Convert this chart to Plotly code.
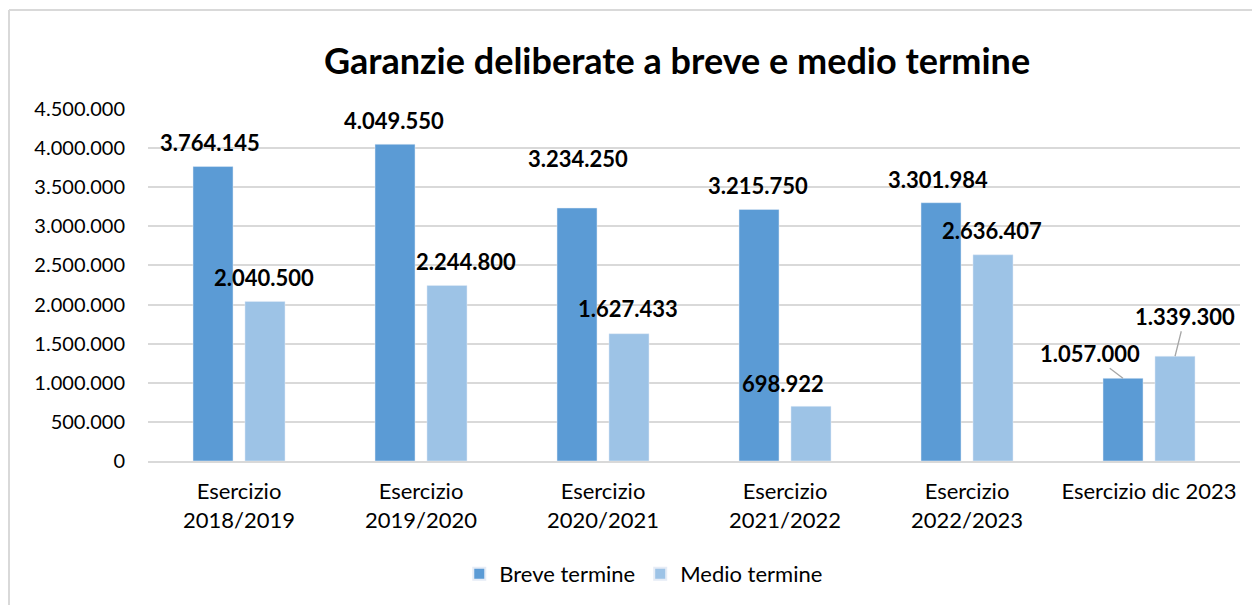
import plotly.graph_objects as go

categories = ["Esercizio<br>2018/2019", "Esercizio<br>2019/2020", "Esercizio<br>2020/2021",
              "Esercizio<br>2021/2022", "Esercizio<br>2022/2023", "Esercizio dic 2023"]
breve = [3764145, 4049550, 3234250, 3215750, 3301984, 1057000]
medio = [2040500, 2244800, 1627433, 698922, 2636407, 1339300]
tick_vals = [0, 500000, 1000000, 1500000, 2000000, 2500000, 3000000, 3500000, 4000000, 4500000]

# label pixel offsets (x, y) relative to bar top centre
breve_off = [(-3, 24), (-1, 24), (1, 50), (-1, 24), (-3, 23), (None, None)]
medio_off = [(-1, 24), (19, 24), (-1, 25), (-28, 23), (-1, 24), (None, None)]

FONT = "Lato"
C_BREVE = "#5B9BD5"
C_MEDIO = "#9DC3E6"
LBL = 22


def fmt(v):
    return f"{v:,}".replace(",", ".")


fig = go.Figure()
fig.add_trace(go.Bar(x=categories, y=breve, name="Breve termine", marker_color=C_BREVE))
fig.add_trace(go.Bar(x=categories, y=medio, name="Medio termine", marker_color=C_MEDIO))

ann = []
for i, cat in enumerate(categories):
    for vals, offs, sh in ((breve, breve_off, -0.5), (medio, medio_off, 0.5)):
        dx, dy = offs[i]
        if dx is None:
            continue
        ann.append(dict(x=i + sh * 0.286, y=vals[i], xref="x", yref="y", text="<b>" + fmt(vals[i]) + "</b>",
                        showarrow=False, xshift=dx, yshift=dy,
                        font=dict(family=FONT, size=LBL, color="#000000")))

# last group labels with leader lines
last = len(categories) - 1
ann.append(dict(x=last - 0.143, y=breve[last], xref="x", yref="y", text="<b>" + fmt(breve[last]) + "</b>",
                showarrow=True, arrowhead=0, arrowwidth=1.3, arrowcolor="#A6A6A6", ax=-33, ay=-25,
                font=dict(family=FONT, size=LBL, color="#000000")))
ann.append(dict(x=last + 0.143, y=medio[last], xref="x", yref="y", text="<b>" + fmt(medio[last]) + "</b>",
                showarrow=True, arrowhead=0, arrowwidth=1.3, arrowcolor="#A6A6A6", ax=10, ay=-40,
                font=dict(family=FONT, size=LBL, color="#000000")))

fig.update_layout(
    width=1260, height=605,
    margin=dict(l=140, r=28, t=101, b=152),
    paper_bgcolor="white", plot_bgcolor="white",
    title=dict(text="<b>Garanzie deliberate a breve e medio termine</b>", x=0.531, xanchor="center",
               y=0.911, yanchor="middle", font=dict(family=FONT, size=36, color="#000000")),
    barmode="group", bargap=0.429, bargroupgap=0.23,
    showlegend=True,
    legend=dict(orientation="h", x=0.454, xanchor="center", y=-0.321, yanchor="middle",
                font=dict(family=FONT, size=22, color="#000000"), itemsizing="constant"),
    annotations=ann,
    shapes=[
        dict(type="line", xref="paper", yref="paper", x0=-0.1273, x1=1.1, y0=1.281, y1=1.281,
             line=dict(color="#D9D9D9", width=2)),
        dict(type="line", xref="paper", yref="paper", x0=-0.1273, x1=-0.1273, y0=1.281, y1=-0.5,
             line=dict(color="#D9D9D9", width=2)),
    ],
)
fig.update_xaxes(showgrid=False, showline=True, linecolor="#D9D9D9", linewidth=2,
                 tickfont=dict(family=FONT, size=22, color="#000000"), ticks="", ticklabelstandoff=10)
fig.update_yaxes(range=[0, 4500000], tickvals=tick_vals, ticktext=[fmt(v) for v in tick_vals],
                 showgrid=True, gridcolor="#D9D9D9", gridwidth=1.5, zeroline=False,
                 tickfont=dict(family=FONT, size=20, color="#000000"), ticks="", ticklabelstandoff=22)

fig.write_html("out.html")
